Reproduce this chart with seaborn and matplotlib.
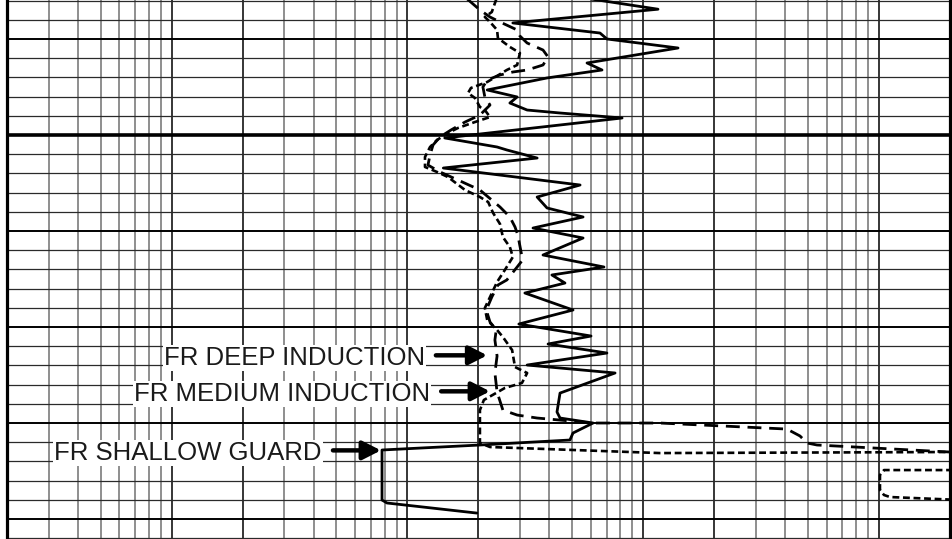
import matplotlib
matplotlib.use('Agg')
import matplotlib.pyplot as plt
import numpy as np
import pandas as pd
import seaborn as sns

# resistivity (ohm.m) against depth (ft)
shallow_res = [52.0, 115.6, 28.0, 65.6, 70.2, 140.6, 57.8, 66.9, 39.1, 21.8, 29.2, 27.2, 32.2, 44.4, 81.4,
               14.4, 24.0, 26.4, 35.5, 14.2, 54.0, 35.5, 39.1, 55.6, 34.1, 55.6, 37.6, 68.2, 41.0, 46.6,
               31.5, 50.4, 29.7, 60.1, 39.5, 70.2, 32.2, 76.0, 44.4, 43.1, 44.4, 61.3, 50.4, 48.9, 20.3,
               7.80, 7.80, 8.19, 19.7]
shallow_depth = [4985.6, 4986.9, 4988.33, 4989.38, 4990.0, 4990.94, 4992.5, 4993.23, 4994.06, 4995.31,
                 4996.04, 4996.67, 4997.4, 4997.71, 4998.23, 5000.31, 5001.25, 5001.56, 5002.4, 5003.44,
                 5005.21, 5006.46, 5007.6, 5008.54, 5009.69, 5010.73, 5012.5, 5013.75, 5014.58, 5015.42,
                 5016.46, 5018.23, 5019.69, 5020.94, 5021.77, 5022.71, 5023.96, 5024.79, 5026.88, 5028.85,
                 5029.48, 5030.0, 5031.04, 5031.77, 5032.29, 5032.81, 5038.02, 5038.33, 5039.38]

medium_res = [17.55, 20.3, 22.4, 24.7, 29.2, 30.0, 32.2, 37.6, 39.5, 37.6, 32.2, 28.0, 24.7, 21.8, 20.9,
              21.3, 22.4, 20.3, 17.55, 15.3, 13.74, 12.84, 12.47, 12.22, 13.74, 16.38, 20.3, 24.7, 27.2,
              28.6, 29.4, 30.8, 29.2, 26.4, 24.2, 22.8, 21.6, 22.4, 23.8, 23.5, 24.0, 23.5, 24.0, 25.4,
              29.2, 35.5, 61.3, 117.9, 407.6, 462.8, 495.9, 546.6, 2000.0, 2600.0]
medium_depth = [4985.63, 4986.98, 4987.71, 4988.23, 4989.06, 4989.69, 4990.42, 4991.15, 4991.88, 4992.71,
                4993.23, 4993.44, 4993.75, 4994.27, 4995.0, 4996.04, 4996.88, 4997.92, 4998.65, 4999.48,
                5000.21, 5001.04, 5002.08, 5003.13, 5003.85, 5004.69, 5005.73, 5007.5, 5008.54, 5009.58,
                5010.42, 5013.02, 5013.75, 5015.1, 5015.63, 5016.88, 5018.23, 5019.48, 5020.31, 5021.35,
                5023.02, 5024.79, 5026.77, 5028.65, 5029.17, 5029.48, 5030.0, 5030.0, 5030.63, 5031.35,
                5032.08, 5032.29, 5033.02, 5033.1]

deep_res = [24.0, 22.8, 21.3, 22.4, 24.0, 24.2, 27.2, 30.0, 29.2, 26.4, 21.8, 18.6, 18.07, 19.34, 20.3,
            21.3, 22.4, 19.34, 16.38, 14.86, 13.35, 12.47, 11.87, 11.87, 13.35, 14.86, 17.55, 20.3, 22.0,
            23.1, 24.7, 25.4, 27.2, 28.0, 25.9, 24.0, 22.4, 21.3, 21.8, 24.0, 25.4, 27.8, 28.6, 32.2,
            30.6, 25.9, 21.1, 20.3, 20.3, 22.4, 117.9, 2000.0, 3000.0, 3000.0, 1052.0, 1011.0, 1011.0,
            1052.0, 1115.0, 2000.0, 2600.0]
deep_depth = [4985.63, 4987.19, 4987.71, 4988.23, 4989.06, 4989.9, 4990.83, 4991.46, 4992.71, 4993.23,
              4994.48, 4995.1, 4995.63, 4996.15, 4997.08, 4997.4, 4998.13, 4998.65, 4999.27, 4999.79,
              5000.52, 5001.25, 5002.29, 5003.33, 5003.85, 5004.38, 5005.73, 5006.46, 5006.98, 5008.13,
              5009.27, 5010.63, 5011.67, 5012.71, 5014.06, 5015.31, 5016.88, 5018.02, 5019.27, 5020.31,
              5021.04, 5022.4, 5024.17, 5024.79, 5025.83, 5026.35, 5027.6, 5028.65, 5032.08, 5032.5,
              5033.13, 5033.02, 5033.0, 5034.9, 5034.9, 5035.42, 5036.98, 5037.5, 5037.71, 5037.97,
              5038.0]

curve_labels = ['FR DEEP INDUCTION', 'FR MEDIUM INDUCTION', 'FR SHALLOW GUARD']
label_tip_res = [21.8, 22.4, 7.72]
label_tail_res = [13.2, 13.9, 4.83]
label_text_res = [11.87, 12.47, 4.33]
label_depth = [5022.95, 5026.7, 5032.85]

res_range = (0.2, 2000)
depth_range = (5042.08, 4985.94)


def curve_df(res, depth):
    return pd.DataFrame({'res': res, 'depth': depth})


def draw_grid(ax):
    ax.set_xscale('log')
    x_major = [1, 2, 10, 20, 100, 200, 1000]
    x_minor = [k * 10.0 ** e for e in range(-1, 3) for k in range(2, 10) if k * 10.0 ** e not in x_major]
    ax.set_xticks(x_major)
    ax.set_xticks(x_minor, minor=True)
    ax.set_yticks(np.arange(4990, 5050, 10))
    ax.set_yticks(np.arange(4986, 5044, 2), minor=True)
    ax.grid(True, which='major', axis='x', color='black', lw=1.1)
    ax.grid(True, which='minor', axis='x', color='#707070', lw=1.1)
    ax.grid(True, which='major', axis='y', color='black', lw=1.4)
    ax.grid(True, which='minor', axis='y', color='#2a2a2a', lw=0.9)
    ax.axhline(5000, color='black', lw=2.6, zorder=1)
    ax.set_axisbelow(True)
    ax.tick_params(which='both', length=0, labelbottom=False, labelleft=False)


def main():
    sns.set_style('white')
    plt.rcParams['font.family'] = ['Liberation Sans', 'DejaVu Sans']

    fig = plt.figure(figsize=(9.52, 5.39), dpi=100)
    ax = fig.add_axes([7 / 952, 0, 942.8 / 952, 1])

    draw_grid(ax)

    sns.lineplot(data=curve_df(deep_res, deep_depth), x='res', y='depth', sort=False, estimator=None,
                 color='black', lw=1.9, linestyle=(0, (2.6, 1.4)), dash_capstyle='butt', ax=ax, zorder=3)
    sns.lineplot(data=curve_df(medium_res, medium_depth), x='res', y='depth', sort=False, estimator=None,
                 color='black', lw=2.0, linestyle=(0, (5.0, 2.8)), dash_capstyle='butt', ax=ax, zorder=3)
    sns.lineplot(data=curve_df(shallow_res, shallow_depth), x='res', y='depth', sort=False, estimator=None,
                 color='black', lw=2.0, ax=ax, zorder=4)

    ax.set_xlim(*res_range)
    ax.set_ylim(*depth_range)
    ax.set_xlabel('')
    ax.set_ylabel('')

    for lab, tip, tail, tx, d in zip(curve_labels, label_tip_res, label_tail_res, label_text_res, label_depth):
        ax.annotate('', xy=(tip, d), xytext=(tail, d),
                    arrowprops=dict(arrowstyle='-|>,head_length=0.55,head_width=0.28', lw=3.2,
                                    color='black', mutation_scale=20, shrinkA=0, shrinkB=0), zorder=6)
        ax.text(tx, d + 0.25, lab, ha='right', va='center', fontsize=18.5, color='#1a1a1a', zorder=5,
                bbox=dict(facecolor='white', edgecolor='none', pad=0.5))

    for side in ['top', 'bottom']:
        ax.spines[side].set_visible(False)
    for side in ['left', 'right']:
        ax.spines[side].set_linewidth(2.3)
        ax.spines[side].set_color('black')

    fig.savefig('out.png', dpi=100)


if __name__ == '__main__':
    main()
